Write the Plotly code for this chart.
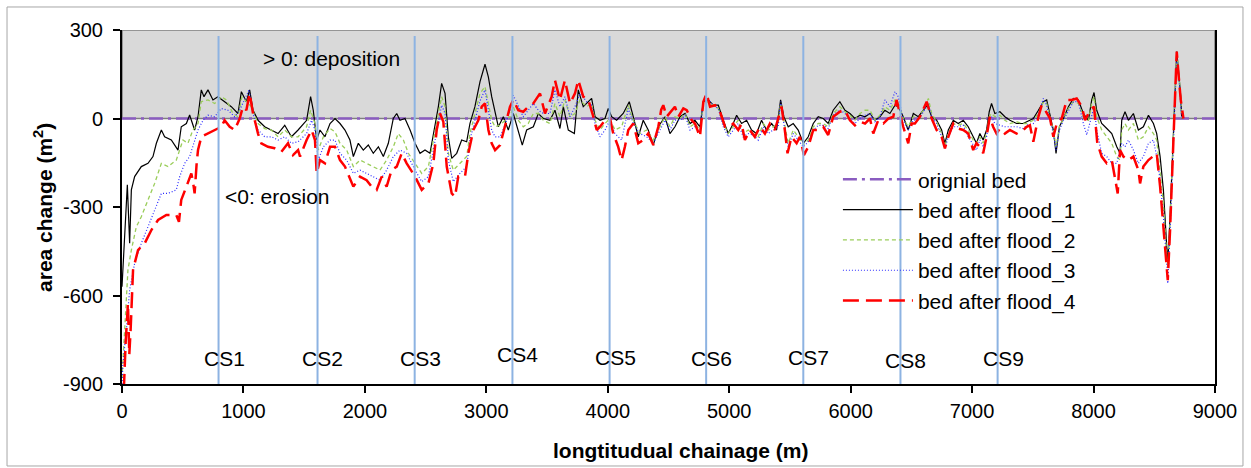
import plotly.graph_objects as go

# ---------------- data (chainage m, area change m2) ----------------
FLOOD_1 = [(0,-570),(8,-510),(30,-300),(44,-225),(63,-423),(77,-242),(104,-197),(159,-163),(214,-152),(255,-129),
 (283,-84),(324,-39),(351,-62),(406,-73),(461,-107),(488,-28),(530,-17),(557,12),(598,-39),(626,6),(653,97),(675,74),
 (708,97),(749,63),(790,74),(845,57),(900,40),(955,17),(983,91),(1024,57),(1051,97),(1079,28),(1120,-6),(1175,-28),
 (1230,-39),(1285,-51),(1340,-23),(1395,-62),(1450,-39),(1520,-6),(1553,74),(1575,28),(1603,-73),(1630,-39),(1671,-62),
 (1713,-17),(1754,0),(1795,-17),(1836,-39),(1877,-73),(1905,-129),(1946,-84),(1987,-107),(2028,-90),(2069,-118),
 (2111,-96),(2152,-129),(2193,-84),(2234,0),(2262,17),(2289,-6),(2330,0),(2372,-39),(2413,-84),(2454,-118),(2495,-107),
 (2536,-118),(2577,-28),(2605,40),(2632,119),(2660,85),(2687,-62),(2715,-135),(2756,-118),(2797,-73),(2838,-79),
 (2865,-17),(2906,40),(2948,125),(2989,184),(3017,140),(3044,74),(3072,17),(3099,-28),(3140,6),(3181,-39),(3222,17),
 (3263,-39),(3296,-90),(3332,-39),(3387,-28),(3428,17),(3469,0),(3524,-6),(3565,28),(3606,-34),(3634,40),(3675,-39),
 (3725,-51),(3757,97),(3798,40),(3840,57),(3867,68),(3895,6),(3936,-6),(3977,0),(4004,34),(4032,6),(4073,-6),(4127,17),
 (4177,57),(4210,6),(4251,-62),(4292,-6),(4333,-39),(4375,-90),(4416,-28),(4471,6),(4512,-51),(4553,-28),(4595,6),
 (4636,17),(4677,-17),(4718,-6),(4759,-28),(4787,57),(4828,63),(4869,45),(4910,45),(4951,-6),(4992,-51),(5033,-17),
 (5061,11),(5102,-17),(5143,-6),(5184,-39),(5225,-51),(5266,-6),(5307,-39),(5349,-17),(5390,-39),(5423,63),(5450,6),
 (5486,-28),(5527,-17),(5568,-39),(5610,-84),(5651,-62),(5692,-17),(5733,6),(5774,0),(5815,-17),(5856,28),(5911,57),
 (5953,28),(5994,17),(6035,0),(6077,11),(6118,6),(6159,17),(6200,-6),(6241,6),(6282,28),(6323,17),(6365,45),(6392,40),
 (6433,6),(6474,-39),(6516,17),(6557,6),(6598,28),(6631,45),(6667,6),(6708,-6),(6749,-39),(6776,-84),(6804,-39),
 (6845,-6),(6886,-17),(6927,-6),(6968,-28),(7009,-62),(7036,-84),(7064,-51),(7091,-73),(7119,-39),(7141,23),(7160,51),
 (7187,17),(7229,23),(7270,6),(7311,-6),(7366,-17),(7421,-17),(7476,-6),(7504,0),(7546,28),(7587,57),(7614,63),
 (7642,6),(7669,-39),(7691,-118),(7719,-28),(7752,0),(7793,40),(7834,68),(7875,63),(7916,17),(7958,-6),(7985,63),
 (8004,88),(8026,28),(8067,-17),(8109,-34),(8150,-51),(8191,-96),(8218,-118),(8232,-6),(8259,23),(8287,-6),(8328,17),
 (8369,-39),(8410,-28),(8452,11),(8493,-17),(8520,-51),(8548,-129),(8575,-242),(8603,-457),(8611,-491),(8630,-333),
 (8652,-129),(8666,6),(8685,227),(8699,164),(8718,74),(8726,0)]

FLOOD_2 = [(0,-880),(22,-717),(49,-513),(77,-446),(118,-367),(159,-333),(214,-276),(269,-220),(324,-152),(379,-163),
 (447,-141),(475,-107),(502,-73),(543,-84),(584,-39),(626,-17),(653,57),(708,63),(763,51),(818,74),(859,63),(914,17),
 (955,6),(988,74),(1038,51),(1065,40),(1120,-17),(1175,-34),(1230,-39),(1285,-62),(1340,-39),(1395,-62),(1450,-62),
 (1520,-28),(1553,28),(1589,-17),(1616,-107),(1658,-62),(1713,-34),(1754,-45),(1795,-84),(1850,-107),(1905,-163),
 (1960,-141),(2014,-152),(2069,-163),(2124,-175),(2179,-141),(2234,-96),(2275,-51),(2317,-73),(2358,-118),(2413,-152),
 (2468,-186),(2523,-163),(2564,-73),(2605,17),(2632,74),(2660,40),(2687,-118),(2728,-175),(2783,-152),(2838,-129),
 (2865,-51),(2906,17),(2948,85),(2989,108),(3017,51),(3044,-6),(3072,-28),(3113,-23),(3154,-6),(3195,6),(3222,40),
 (3263,-6),(3304,-28),(3345,-17),(3387,17),(3428,17),(3469,-6),(3524,-17),(3565,51),(3606,6),(3647,63),(3689,6),
 (3730,17),(3771,63),(3826,40),(3867,51),(3895,-6),(3936,-39),(3977,-17),(4018,0),(4059,-39),(4114,-28),(4169,45),
 (4210,-6),(4265,-51),(4320,-39),(4375,-73),(4430,-28),(4471,6),(4512,-28),(4553,6),(4595,0),(4636,17),(4677,-28),
 (4718,-17),(4759,-39),(4787,51),(4828,57),(4869,45),(4910,34),(4951,-17),(4992,-51),(5033,-28),(5074,-6),(5115,-51),
 (5157,-39),(5198,-51),(5239,-62),(5280,-17),(5321,-39),(5362,-28),(5403,-17),(5423,51),(5458,-28),(5486,-84),
 (5527,-39),(5568,-62),(5610,-90),(5651,-73),(5692,-28),(5733,-17),(5774,-17),(5815,-28),(5856,17),(5911,40),(5953,23),
 (5994,11),(6035,-6),(6077,17),(6118,28),(6159,28),(6200,-6),(6241,11),(6282,40),(6323,28),(6365,63),(6392,57),
 (6433,0),(6474,-28),(6516,6),(6557,0),(6598,28),(6640,68),(6667,17),(6708,-11),(6749,-51),(6776,-96),(6804,-51),
 (6845,-17),(6886,-23),(6927,-17),(6968,-39),(7009,-73),(7036,-84),(7064,-62),(7091,-84),(7119,-51),(7141,6),
 (7160,17),(7187,6),(7229,11),(7270,-6),(7311,-17),(7366,-11),(7421,-17),(7449,-17),(7504,-6),(7546,17),(7587,57),
 (7614,51),(7642,0),(7669,-39),(7691,-96),(7719,-28),(7752,0),(7793,34),(7834,57),(7875,51),(7916,6),(7958,-6),
 (7985,51),(8004,74),(8026,6),(8067,-39),(8109,-62),(8150,-84),(8191,-129),(8218,-141),(8232,-39),(8259,-17),
 (8287,-39),(8328,-17),(8369,-73),(8410,-62),(8452,-28),(8493,-51),(8520,-73),(8548,-175),(8575,-288),(8603,-469),
 (8611,-502),(8630,-344),(8652,-129),(8666,6),(8685,221),(8699,164),(8718,74),(8726,0)]

FLOOD_3 = [(0,-900),(8,-830),(36,-717),(63,-581),(104,-491),(159,-423),(214,-367),(269,-310),(324,-254),(379,-254),
 (447,-242),(475,-197),(516,-152),(557,-129),(598,-73),(626,-39),(667,-6),(708,11),(763,6),(818,34),(873,28),(928,6),
 (969,28),(1010,63),(1046,97),(1079,17),(1120,-39),(1175,-62),(1230,-62),(1285,-73),(1340,-62),(1395,-84),(1450,-79),
 (1520,-51),(1561,-6),(1589,-39),(1616,-141),(1658,-96),(1713,-73),(1754,-73),(1795,-118),(1850,-141),(1905,-186),
 (1960,-175),(2014,-186),(2069,-197),(2124,-209),(2179,-175),(2234,-129),(2289,-107),(2344,-118),(2413,-175),
 (2468,-214),(2523,-197),(2564,-107),(2605,-6),(2632,45),(2660,17),(2687,-141),(2728,-214),(2783,-186),(2838,-163),
 (2865,-73),(2906,-6),(2948,60),(2989,97),(3017,28),(3044,-39),(3072,-62),(3113,-62),(3154,-23),(3195,28),(3222,79),
 (3263,40),(3304,6),(3345,28),(3387,51),(3428,28),(3469,17),(3524,17),(3565,97),(3606,40),(3647,74),(3689,6),(3730,40),
 (3771,85),(3826,57),(3867,45),(3895,-17),(3936,-62),(3977,-39),(4018,-6),(4059,-51),(4114,-73),(4169,34),(4210,-17),
 (4265,-51),(4320,-62),(4375,-84),(4430,-39),(4471,-6),(4512,-39),(4553,-6),(4595,-6),(4636,11),(4677,-39),(4718,-28),
 (4759,-45),(4787,57),(4828,63),(4869,45),(4910,34),(4951,-28),(4992,-62),(5033,-39),(5074,-17),(5115,-62),(5157,-51),
 (5198,-56),(5239,-73),(5280,-28),(5321,-51),(5362,-39),(5403,-28),(5423,57),(5458,-39),(5486,-96),(5527,-51),
 (5568,-73),(5610,-96),(5651,-79),(5692,-39),(5733,-23),(5774,-23),(5815,-34),(5856,11),(5911,30),(5953,17),(5994,0),
 (6035,-17),(6077,0),(6118,11),(6159,17),(6200,-11),(6241,6),(6282,63),(6323,40),(6365,91),(6392,74),(6433,-6),
 (6474,-39),(6516,-6),(6557,-6),(6598,23),(6640,51),(6667,6),(6708,-17),(6749,-62),(6776,-101),(6804,-62),(6845,-28),
 (6886,-28),(6927,-23),(6968,-62),(7009,-90),(7036,-107),(7064,-73),(7091,-96),(7119,-62),(7141,-6),(7160,6),
 (7187,-17),(7229,-23),(7270,-28),(7311,-28),(7366,-28),(7421,-34),(7449,-23),(7504,-17),(7546,11),(7587,68),
 (7614,45),(7642,-6),(7669,-51),(7691,-107),(7719,-39),(7752,-6),(7793,28),(7834,57),(7875,57),(7916,-17),(7944,-56),
 (7985,6),(8004,40),(8026,-39),(8067,-118),(8109,-129),(8150,-152),(8191,-152),(8218,-107),(8232,-84),(8259,-96),
 (8287,-73),(8328,-107),(8369,-152),(8410,-129),(8452,-84),(8493,-73),(8520,-129),(8548,-209),(8575,-333),(8603,-491),
 (8611,-559),(8630,-378),(8652,-152),(8666,-6),(8685,209),(8699,153),(8718,63),(8726,0)]

FLOOD_4 = [(15,-920),(30,-760),(49,-627),(60,-800),(71,-717),(91,-513),(132,-446),(187,-423),(242,-378),(297,-344),
 (365,-327),(447,-327),(469,-350),(488,-276),(530,-231),(571,-186),(590,-230),(598,-254),(615,-150),(626,-107),
 (653,-62),(708,-51),(763,-39),(818,-28),(845,-6),(887,-28),(928,-39),(969,0),(996,40),(1024,28),(1051,85),(1079,17),
 (1120,-51),(1147,-84),(1202,-96),(1257,-101),(1312,-113),(1367,-84),(1408,-124),(1450,-107),(1466,-129),(1520,-73),
 (1561,-39),(1589,-73),(1603,-186),(1630,-141),(1671,-152),(1713,-96),(1754,-96),(1795,-141),(1836,-163),(1905,-231),
 (1960,-197),(2014,-209),(2055,-231),(2097,-242),(2138,-197),(2179,-231),(2220,-175),(2262,-163),(2303,-118),
 (2344,-152),(2413,-197),(2468,-242),(2523,-220),(2564,-152),(2591,-39),(2619,17),(2646,-11),(2674,-163),(2715,-254),
 (2742,-265),(2769,-197),(2824,-197),(2852,-118),(2893,-39),(2934,-6),(2962,40),(2989,51),(3017,-39),(3044,-84),
 (3072,-107),(3113,-90),(3154,-28),(3195,40),(3222,63),(3263,28),(3304,23),(3345,40),(3387,51),(3442,85),(3483,17),
 (3538,74),(3565,130),(3606,63),(3647,130),(3689,51),(3730,85),(3757,130),(3798,74),(3840,63),(3881,6),(3909,-39),
 (3936,-28),(3977,-6),(4018,0),(4045,-51),(4086,-96),(4114,-141),(4141,-96),(4169,-39),(4210,-17),(4251,-84),
 (4292,-73),(4333,-51),(4375,-90),(4416,-28),(4440,30),(4457,45),(4485,6),(4526,28),(4553,40),(4581,6),(4622,34),
 (4650,28),(4691,-6),(4718,-17),(4759,-62),(4787,57),(4814,85),(4842,40),(4883,45),(4924,23),(4965,-28),(5006,-28),
 (5033,-17),(5074,-39),(5102,-17),(5129,-73),(5170,-39),(5211,-62),(5253,-28),(5294,-51),(5335,-17),(5376,-39),
 (5403,0),(5431,40),(5458,-39),(5480,-118),(5513,-62),(5555,-84),(5582,-62),(5615,-124),(5651,-96),(5692,-39),
 (5733,-39),(5774,-28),(5815,-56),(5856,6),(5911,23),(5953,28),(5994,-6),(6035,-23),(6077,-11),(6118,-17),(6159,0),
 (6186,-51),(6227,-6),(6269,-17),(6310,0),(6351,6),(6378,63),(6406,17),(6433,-28),(6474,-84),(6502,-17),(6529,-17),
 (6571,6),(6626,57),(6667,0),(6708,-39),(6749,-62),(6776,-101),(6804,-62),(6845,-17),(6886,-34),(6927,-39),(6968,-51),
 (7009,-107),(7036,-84),(7064,-96),(7091,-118),(7119,-62),(7146,6),(7173,-28),(7201,-51),(7229,-34),(7270,-51),
 (7311,-39),(7366,-51),(7421,-39),(7449,-28),(7476,-23),(7504,-79),(7546,6),(7573,45),(7601,28),(7642,0),(7669,-62),
 (7697,-17),(7738,0),(7779,63),(7820,63),(7861,68),(7903,40),(7930,-6),(7971,28),(8004,40),(8031,-84),(8067,-129),
 (8109,-152),(8150,-141),(8199,-254),(8218,-107),(8246,-129),(8287,-141),(8328,-129),(8369,-175),(8383,-220),
 (8410,-163),(8452,-141),(8493,-129),(8520,-118),(8548,-231),(8575,-356),(8603,-514),(8611,-548),(8630,-378),
 (8652,-152),(8666,-6),(8685,227),(8699,153),(8718,63),(8740,0)]

ORIGINAL_BED = [(0, 0), (9000, 0)]

CS_NAMES = ["CS1", "CS2", "CS3", "CS4", "CS5", "CS6", "CS7", "CS8", "CS9"]
CS_POS = [795, 1610, 2410, 3215, 4015, 4810, 5610, 6410, 7210]
CS_LABEL_Y = [-815, -812, -812, -800, -810, -812, -810, -822, -812]

X_TICKS = list(range(0, 9001, 1000))
Y_TICKS = [-900, -600, -300, 0, 300]
Y_TICK_TEXT = ["-900", "-600", "-300", "0", "300"]

FONT = "Liberation Sans, Arial, sans-serif"

def split(pairs):
    return [p[0] for p in pairs], [p[1] for p in pairs]

fig = go.Figure()

series = [
    ("orignial bed", ORIGINAL_BED, dict(color="#8A5CC0", width=2.5, dash="14px,5px,3px,5px")),
    ("bed after flood_1", FLOOD_1, dict(color="#000000", width=1.2)),
    ("bed after flood_2", FLOOD_2, dict(color="#9ACD5A", width=1.3, dash="4px,3px")),
    ("bed after flood_3", FLOOD_3, dict(color="#2B2BFF", width=1.2, dash="1px,2px")),
    ("bed after flood_4", FLOOD_4, dict(color="#FF0000", width=2.5, dash="16px,7px")),
]
for name, pairs, line in series:
    xs, ys = split(pairs)
    fig.add_trace(go.Scatter(x=xs, y=ys, mode="lines", name=name, line=line))

shapes = [
    # grey deposition zone
    dict(type="rect", xref="x", yref="y", x0=0, x1=9000, y0=0, y1=300,
         fillcolor="#D9D9D9", line=dict(color="#7F7F7F", width=1.5), layer="below"),
    # outer frame
    dict(type="rect", xref="paper", yref="paper", x0=-0.1052, x1=1.0256, y0=-0.2316, y1=1.065,
         line=dict(color="#A6A6A6", width=1), fillcolor="rgba(0,0,0,0)"),
]
for p in CS_POS:
    shapes.append(dict(type="line", xref="x", yref="y", x0=p, x1=p, y0=-900, y1=280,
                       line=dict(color="#8DB3E2", width=2), layer="above"))

annotations = []
for name, p, ly in zip(CS_NAMES, CS_POS, CS_LABEL_Y):
    annotations.append(dict(x=p + 45, y=ly, xref="x", yref="y", text=name, showarrow=False,
                            xanchor="center", yanchor="middle",
                            font=dict(family=FONT, size=21, color="#000")))
annotations += [
    dict(x=1722, y=202, xref="x", yref="y", text="> 0: deposition", showarrow=False,
         xanchor="center", yanchor="middle", font=dict(family=FONT, size=21, color="#000")),
    dict(x=1277, y=-265, xref="x", yref="y", text="<0: erosion", showarrow=False,
         xanchor="center", yanchor="middle", font=dict(family=FONT, size=21, color="#000")),
    dict(x=0.5114, y=-0.189, xref="paper", yref="paper", text="<b>longtitudual chainage (m)</b>",
         showarrow=False, xanchor="center", yanchor="middle",
         font=dict(family=FONT, size=21, color="#000")),
    dict(x=-0.0723, y=0.5, xref="paper", yref="paper", text="<b>area change (m<sup>2</sup>)</b>",
         showarrow=False, textangle=-90, xanchor="center", yanchor="middle",
         font=dict(family=FONT, size=21, color="#000")),
]

fig.update_layout(
    width=1251, height=468,
    margin=dict(l=122, r=36, t=30, b=84),
    paper_bgcolor="white", plot_bgcolor="white",
    font=dict(family=FONT, size=20, color="#000"),
    shapes=shapes, annotations=annotations,
    showlegend=True,
    legend=dict(x=0.655, y=0.635, xanchor="left", yanchor="top", bgcolor="rgba(0,0,0,0)",
                font=dict(family=FONT, size=21, color="#000"), itemwidth=70, tracegroupgap=0),
    xaxis=dict(range=[0, 9000], tickvals=X_TICKS, ticks="outside", ticklen=7, tickwidth=1.5,
               tickcolor="#000", showline=True, linecolor="#000", linewidth=2, showgrid=False,
               zeroline=False, tickfont=dict(family=FONT, size=20), ticklabelstandoff=1),
    yaxis=dict(range=[-900, 300], tickvals=Y_TICKS, ticktext=Y_TICK_TEXT, ticks="outside", ticklen=7,
               tickwidth=1.5, tickcolor="#000", showline=True, linecolor="#000", linewidth=2, mirror=True,
               showgrid=False, zeroline=False, tickfont=dict(family=FONT, size=20), ticklabelstandoff=6),
)

fig.write_html("out.html")
